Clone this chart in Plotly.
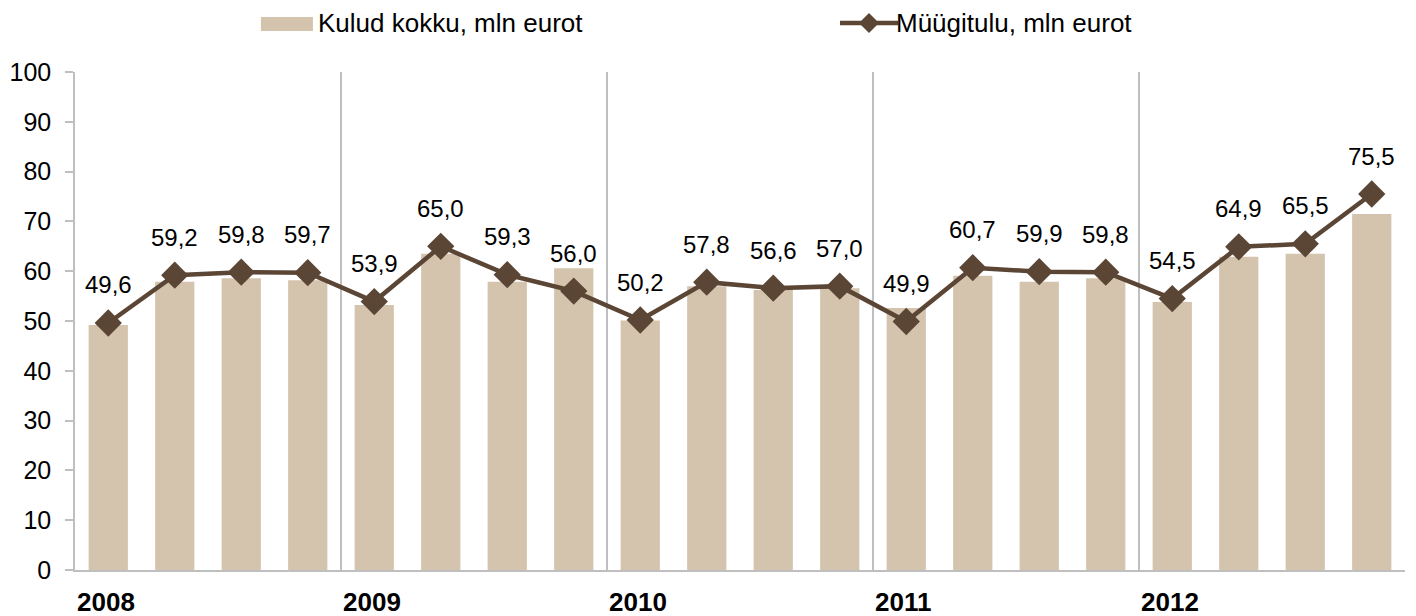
import plotly.graph_objects as go

years = ["2008", "2009", "2010", "2011", "2012"]
quarters_per_year = 4
costs = [49.2, 57.9, 58.6, 58.2,
         53.2, 63.5, 57.9, 60.6,
         50.1, 57.0, 56.2, 56.6,
         52.6, 59.1, 57.9, 58.6,
         53.8, 62.9, 63.5, 71.5]
revenue = [49.6, 59.2, 59.8, 59.7,
           53.9, 65.0, 59.3, 56.0,
           50.2, 57.8, 56.6, 57.0,
           49.9, 60.7, 59.9, 59.8,
           54.5, 64.9, 65.5, 75.5]
cost_name = "Kulud kokku, mln eurot"
rev_name = "Müügitulu, mln eurot"
y_ticks = list(range(0, 101, 10))

BAR = "#D5C4AD"
LINE = "#5B4636"
GRID = "#BFBFBF"
FONT = "Liberation Sans, Arial, sans-serif"

n = len(costs)
xpos = [i + 0.5 for i in range(n)]

fig = go.Figure()
fig.add_trace(go.Bar(x=xpos, y=costs, name=cost_name, marker=dict(color=BAR, line=dict(width=0)),
                     showlegend=False))
fig.add_trace(go.Scatter(x=xpos, y=revenue, name=rev_name, mode="lines+markers",
                         line=dict(color=LINE, width=4.5),
                         marker=dict(symbol="diamond", size=21, color=LINE),
                         showlegend=False))

annotations = []
for x, v in zip(xpos, revenue):
    annotations.append(dict(x=x, y=v, xref="x", yref="y", text=f"{v:.1f}".replace(".", ","),
                            showarrow=False, yshift=38, font=dict(size=24, color="#000", family=FONT)))
for k, yr in enumerate(years):
    annotations.append(dict(x=k * quarters_per_year, y=0, xref="x", yref="paper", text=f"<b>{yr}</b>",
                            showarrow=False, xanchor="left", yanchor="middle", yshift=-32, xshift=0,
                            font=dict(size=26, color="#000", family=FONT)))

# Legend (manual)
annotations.append(dict(x=0.1815, y=1.0984, xref="paper", yref="paper", text=cost_name, showarrow=False,
                        xanchor="left", yanchor="middle", font=dict(size=26, color="#000", family=FONT)))
annotations.append(dict(x=0.6158, y=1.0984, xref="paper", yref="paper", text=rev_name, showarrow=False,
                        xanchor="left", yanchor="middle", font=dict(size=26, color="#000", family=FONT)))
shapes = [
    dict(type="rect", xref="paper", yref="paper", x0=0.1398, x1=0.1789, y0=1.0823, y1=1.1104,
         fillcolor=BAR, line=dict(width=0)),
    dict(type="line", xref="paper", yref="paper", x0=0.5752, x1=0.6188, y0=1.0984, y1=1.0984,
         line=dict(color=LINE, width=4.5)),
    dict(type="path", xref="paper", yref="paper", xsizemode="pixel", ysizemode="pixel",
         xanchor=0.597, yanchor=1.0984, path="M -10 0 L 0 10 L 10 0 L 0 -10 Z",
         fillcolor=LINE, line=dict(width=0)),
]

# page body has an 8px margin, so the figure is 8px smaller and margins shifted
fig.update_layout(
    width=1408, height=608,
    margin=dict(l=67, r=11, t=64, b=46, autoexpand=False),
    paper_bgcolor="white", plot_bgcolor="white",
    bargap=0.41,
    font=dict(family=FONT, size=24, color="#000"),
    annotations=annotations, shapes=shapes,
    xaxis=dict(range=[0, n], tickvals=[k * quarters_per_year for k in range(len(years) + 1)],
               showticklabels=False, showgrid=True, gridcolor=GRID, gridwidth=1.5, automargin=False,
               showline=True, linecolor=GRID, linewidth=1.5, ticks="", zeroline=False, fixedrange=True),
    yaxis=dict(range=[0, 100], tickvals=y_ticks, showgrid=False, zeroline=False, automargin=False,
               showline=True, linecolor=GRID, linewidth=1.5, ticks="outside", ticklen=8,
               tickcolor=GRID, tickwidth=1.5, ticklabelstandoff=9,
               tickfont=dict(size=25, color="#000", family=FONT)),
)

fig.write_html("out.html")
